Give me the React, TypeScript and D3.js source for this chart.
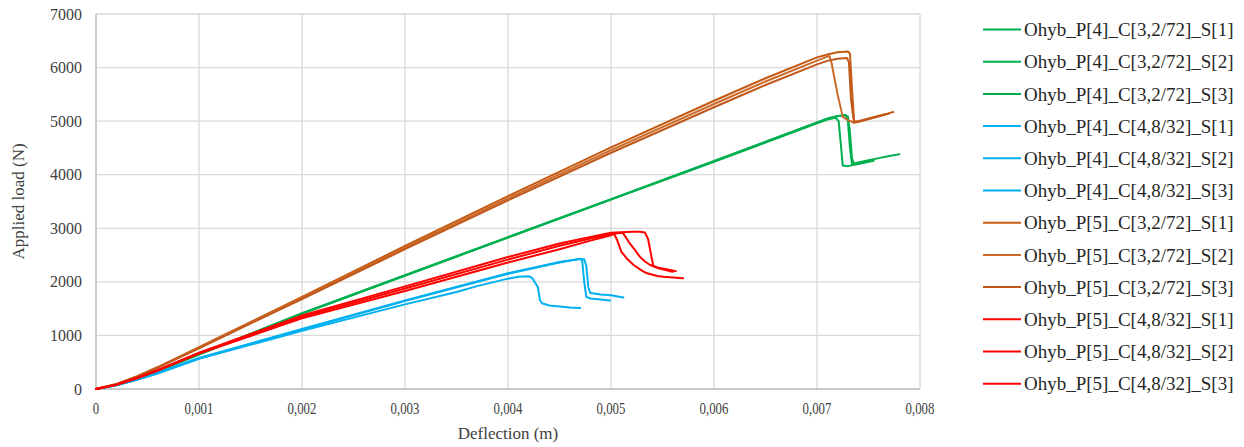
import React from 'react';
import * as d3 from 'd3';

type Pt = [number, number];

// deflection (m), applied load (N)
const greenS1: Pt[] = [[0, 0], [0.0002, 80], [0.0004, 200], [0.0006, 335], [0.001, 645], [0.002, 1410], [0.003, 2120], [0.004, 2830], [0.005, 3540], [0.006, 4250], [0.0065, 4610], [0.007, 4970], [0.0071, 5040], [0.0072, 5090], [0.00727, 5110], [0.0073, 5090], [0.00732, 4800], [0.00734, 4300], [0.00736, 4210], [0.0074, 4230], [0.0075, 4270], [0.0076, 4310], [0.0077, 4350], [0.0078, 4380]];
const greenS2: Pt[] = [[0, 0], [0.0002, 79], [0.0004, 198], [0.0006, 333], [0.001, 642], [0.002, 1405], [0.003, 2115], [0.004, 2825], [0.005, 3535], [0.006, 4240], [0.0065, 4600], [0.007, 4960], [0.0071, 5030], [0.00718, 5065], [0.00721, 5000], [0.00723, 4600], [0.00725, 4170], [0.0073, 4160], [0.0074, 4200], [0.0075, 4240], [0.00755, 4260]];
const greenS3: Pt[] = [[0, 0], [0.0002, 81], [0.0004, 202], [0.0006, 337], [0.001, 648], [0.002, 1415], [0.003, 2125], [0.004, 2835], [0.005, 3545], [0.006, 4255], [0.0065, 4615], [0.007, 4975], [0.0071, 5050], [0.0072, 5095], [0.00728, 5115], [0.0073, 5000], [0.00732, 4500], [0.00734, 4190], [0.0074, 4210], [0.0075, 4240]];

const blueS1: Pt[] = [[0, 0], [0.0002, 70], [0.0004, 170], [0.0006, 290], [0.001, 565], [0.002, 1085], [0.003, 1580], [0.0035, 1810], [0.0037, 1920], [0.004, 2060], [0.0041, 2095], [0.0042, 2105], [0.00422, 2090], [0.00424, 2060], [0.00429, 1900], [0.00431, 1660], [0.00433, 1600], [0.0044, 1560], [0.0045, 1540], [0.0046, 1520], [0.0047, 1510]];
const blueS2: Pt[] = [[0, 0], [0.0002, 72], [0.0004, 175], [0.0006, 300], [0.001, 575], [0.002, 1110], [0.003, 1640], [0.004, 2150], [0.0045, 2360], [0.0047, 2430], [0.00472, 2400], [0.00474, 2000], [0.00476, 1720], [0.0048, 1690], [0.0049, 1670], [0.00499, 1650]];
const blueS3: Pt[] = [[0, 0], [0.0002, 72], [0.0004, 178], [0.0006, 305], [0.001, 580], [0.002, 1120], [0.003, 1655], [0.004, 2160], [0.0045, 2370], [0.0047, 2425], [0.00474, 2420], [0.00476, 2300], [0.00478, 1900], [0.0048, 1790], [0.0049, 1765], [0.005, 1750], [0.00512, 1710]];

const brownS1: Pt[] = [[0, 0], [0.0002, 95], [0.0004, 240], [0.0006, 410], [0.001, 780], [0.002, 1720], [0.003, 2670], [0.004, 3600], [0.005, 4510], [0.006, 5380], [0.0065, 5800], [0.007, 6190], [0.0071, 6245], [0.0072, 6285], [0.0073, 6300], [0.00732, 6260], [0.00734, 5600], [0.00736, 5000], [0.0074, 4990], [0.0075, 5040], [0.0076, 5090], [0.0077, 5150], [0.00774, 5170]];
const brownS2: Pt[] = [[0, 0], [0.0002, 92], [0.0004, 235], [0.0006, 405], [0.001, 770], [0.002, 1700], [0.003, 2640], [0.004, 3560], [0.005, 4460], [0.006, 5320], [0.0065, 5740], [0.007, 6130], [0.0071, 6205], [0.00712, 6215], [0.00714, 6100], [0.0072, 5500], [0.00725, 5080], [0.0073, 5020], [0.00735, 4980], [0.0074, 5000], [0.0075, 5050], [0.0076, 5100], [0.00766, 5130]];
const brownS3: Pt[] = [[0, 0], [0.0002, 90], [0.0004, 230], [0.0006, 400], [0.001, 760], [0.002, 1680], [0.003, 2610], [0.004, 3520], [0.005, 4410], [0.006, 5260], [0.0065, 5675], [0.007, 6060], [0.0071, 6125], [0.0072, 6165], [0.00729, 6180], [0.00731, 6100], [0.00733, 5400], [0.00736, 4970], [0.0074, 4990], [0.0075, 5040], [0.0076, 5090], [0.0077, 5140]];

const redS1: Pt[] = [[0, 0], [0.0002, 80], [0.0004, 200], [0.0006, 345], [0.001, 660], [0.002, 1320], [0.003, 1830], [0.004, 2360], [0.0045, 2610], [0.0048, 2770], [0.005, 2870], [0.00503, 2895], [0.00506, 2780], [0.0051, 2563], [0.00516, 2420], [0.00522, 2315], [0.0053, 2210], [0.00535, 2160], [0.00545, 2110], [0.00551, 2097], [0.0057, 2067]];
const redS2: Pt[] = [[0, 0], [0.0002, 80], [0.0004, 205], [0.0006, 350], [0.001, 670], [0.002, 1350], [0.003, 1875], [0.004, 2415], [0.0045, 2675], [0.0048, 2810], [0.005, 2890], [0.0051, 2915], [0.00512, 2900], [0.00518, 2725], [0.00523, 2600], [0.00528, 2470], [0.00533, 2380], [0.00538, 2315], [0.00545, 2260], [0.00557, 2200], [0.0056, 2190]];
const redS3: Pt[] = [[0, 0], [0.0002, 82], [0.0004, 210], [0.0006, 355], [0.001, 680], [0.002, 1375], [0.003, 1915], [0.004, 2465], [0.0045, 2715], [0.0048, 2840], [0.005, 2915], [0.0052, 2935], [0.00528, 2937], [0.00533, 2920], [0.00536, 2800], [0.00539, 2500], [0.00541, 2300], [0.00545, 2270], [0.00555, 2230], [0.00563, 2200]];

const seriesNames = [
  'Ohyb_P[4]_C[3,2/72]_S[1]', 'Ohyb_P[4]_C[3,2/72]_S[2]', 'Ohyb_P[4]_C[3,2/72]_S[3]',
  'Ohyb_P[4]_C[4,8/32]_S[1]', 'Ohyb_P[4]_C[4,8/32]_S[2]', 'Ohyb_P[4]_C[4,8/32]_S[3]',
  'Ohyb_P[5]_C[3,2/72]_S[1]', 'Ohyb_P[5]_C[3,2/72]_S[2]', 'Ohyb_P[5]_C[3,2/72]_S[3]',
  'Ohyb_P[5]_C[4,8/32]_S[1]', 'Ohyb_P[5]_C[4,8/32]_S[2]', 'Ohyb_P[5]_C[4,8/32]_S[3]'
];
const seriesData = [greenS1, greenS2, greenS3, blueS1, blueS2, blueS3, brownS1, brownS2, brownS3, redS1, redS2, redS3];
const seriesColors = ['#00B050', '#00B050', '#00B050', '#00B0F0', '#00B0F0', '#00B0F0', '#C55A11', '#CC6A2A', '#C0581A', '#FF0000', '#FF0000', '#FF0000'];

const xTicks = [0, 0.001, 0.002, 0.003, 0.004, 0.005, 0.006, 0.007, 0.008];
const yTicks = [0, 1000, 2000, 3000, 4000, 5000, 6000, 7000];

const FONT = '"Liberation Serif", "Times New Roman", serif';

export default function App() {
  const left = 96, right = 920, top = 14, bottom = 389;
  const x = d3.scaleLinear().domain([0, 0.008]).range([left, right]);
  const y = d3.scaleLinear().domain([0, 7000]).range([bottom, top]);
  const line = d3.line<Pt>().x((d) => x(d[0])).y((d) => y(d[1]));
  const fmtX = (v: number) => (v === 0 ? '0' : d3.format('.3f')(v).replace('.', ','));

  return (
    <svg width={1244} height={447} style={{ position: 'absolute', left: 0, top: 0, background: '#fff' }} fontFamily={FONT}>
      {/* grid */}
      {yTicks.map((t) => (
        <line key={'gy' + t} x1={left} x2={right} y1={y(t)} y2={y(t)} stroke="#d9d9d9" strokeWidth={1.3} />
      ))}
      {xTicks.map((t) => (
        <line key={'gx' + t} x1={x(t)} x2={x(t)} y1={top} y2={bottom} stroke="#d9d9d9" strokeWidth={1.3} />
      ))}
      <line x1={left} x2={left} y1={top} y2={bottom} stroke="#bfbfbf" strokeWidth={1.3} />
      <line x1={left} x2={right} y1={bottom} y2={bottom} stroke="#bfbfbf" strokeWidth={1.3} />

      {/* tick labels */}
      {yTicks.map((t) => (
        <text key={'ty' + t} x={82} y={y(t)} dy="0.35em" textAnchor="end" fontSize={16} fill="#404040">{t}</text>
      ))}
      {xTicks.map((t) => (
        <text key={'tx' + t} transform={`translate(${x(t)},${bottom + 25}) scale(0.8,1)`} textAnchor="middle" fontSize={16} fill="#404040">{fmtX(t)}</text>
      ))}

      {/* axis titles */}
      <text transform={`translate(24,${(top + bottom) / 2}) rotate(-90)`} textAnchor="middle" fontSize={17} fill="#404040">Applied load (N)</text>
      <text x={(left + right) / 2} y={439} textAnchor="middle" fontSize={17} fill="#404040">Deflection (m)</text>

      {/* series */}
      {seriesData.map((d, i) => (
        <path key={'s' + i} d={line(d) || ''} fill="none" stroke={seriesColors[i]} strokeWidth={2} strokeLinejoin="round" strokeLinecap="round" />
      ))}

      {/* legend */}
      {seriesNames.map((n, i) => {
        const ly = 29.5 + i * 32.2;
        return (
          <g key={'l' + i}>
            <line x1={983} x2={1021} y1={ly} y2={ly} stroke={seriesColors[i]} strokeWidth={2} />
            <text x={1024} y={ly} dy="0.35em" fontSize={19} fill="#262626">{n}</text>
          </g>
        );
      })}
    </svg>
  );
}
